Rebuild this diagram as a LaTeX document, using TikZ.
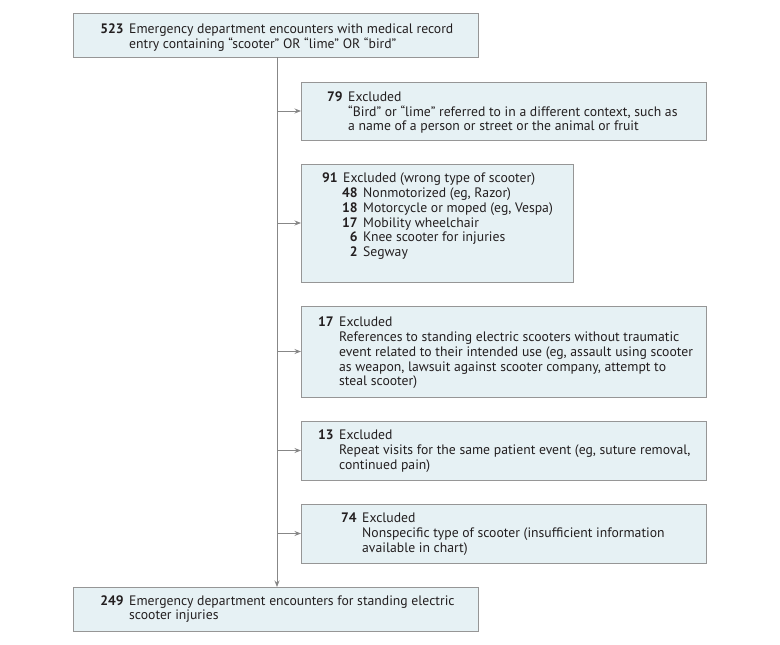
\documentclass[tikz,border=0pt]{standalone}
\usepackage{fontspec}
\setmainfont{PT Sans}
\usetikzlibrary{arrows.meta,calc}
\definecolor{boxfill}{RGB}{230,241,244}
\definecolor{boxline}{RGB}{150,150,150}
\definecolor{conn}{RGB}{135,135,135}
\definecolor{ink}{RGB}{35,31,32}
\newcommand{\fcnum}[1]{\llap{\textbf{#1}\hspace{5.5pt}}}
\begin{document}
\begin{tikzpicture}[x=1pt,y=-1pt,
  box/.style={draw=boxline,fill=boxfill,line width=0.8pt,inner sep=0pt,anchor=north west},
  txt/.style={inner sep=0pt,anchor=base west,text=ink,font=\fontsize{13.7}{14.8}\selectfont},
  conline/.style={draw=conn,line width=0.8pt},
  arr/.style={conline,-{Stealth[length=6.5pt,width=5pt]}}]
\useasboundingbox (0,0) rectangle (780,645);
% boxes
\node[box,minimum width=405pt,minimum height=44pt] (top) at (73,13) {};
\node[box,minimum width=405pt,minimum height=58pt] (b1) at (301,82) {};
\node[box,minimum width=272pt,minimum height=118pt] (b2) at (301,164) {};
\node[box,minimum width=405pt,minimum height=91pt] (b3) at (301,306) {};
\node[box,minimum width=405pt,minimum height=59pt] (b4) at (301,421) {};
\node[box,minimum width=405pt,minimum height=59pt] (b5) at (301,504) {};
\node[box,minimum width=405pt,minimum height=44pt] (bot) at (73,587) {};
% texts
\node[txt] (ttop) at (129,33.3) {\begin{tabular}[t]{@{}l@{}}\fcnum{523}Emergency department encounters with medical record\\ entry containing “scooter” OR “lime” OR “bird”\end{tabular}};
\node[txt] (t1) at (348,101) {\begin{tabular}[t]{@{}l@{}}\fcnum{79}Excluded\\ “Bird” or “lime” referred to in a different context, such as\\ a name of a person or street or the animal or fruit\end{tabular}};
\node[txt] (t2) at (343,182.7) {\begin{tabular}[t]{@{}l@{}}\fcnum{91}Excluded (wrong type of scooter)\\
\hspace{20pt}\fcnum{48}Nonmotorized (eg, Razor)\\
\hspace{20pt}\fcnum{18}Motorcycle or moped (eg, Vespa)\\
\hspace{20pt}\fcnum{17}Mobility wheelchair\\
\hspace{20pt}\fcnum{6}Knee scooter for injuries\\
\hspace{20pt}\fcnum{2}Segway\end{tabular}};
\node[txt] (t3) at (339,326.7) {\begin{tabular}[t]{@{}l@{}}\fcnum{17}Excluded\\ References to standing electric scooters without traumatic\\ event related to their intended use (eg, assault using scooter\\ as weapon, lawsuit against scooter company, attempt to\\ steal scooter)\end{tabular}};
\node[txt] (t4) at (339,439.5) {\begin{tabular}[t]{@{}l@{}}\fcnum{13}Excluded\\ Repeat visits for the same patient event (eg, suture removal,\\ continued pain)\end{tabular}};
\node[txt] (t5) at (362,522.5) {\begin{tabular}[t]{@{}l@{}}\fcnum{74}Excluded\\ Nonspecific type of scooter (insufficient information\\ available in chart)\end{tabular}};
\node[txt] (tbot) at (129,605) {\begin{tabular}[t]{@{}l@{}}\fcnum{249}Emergency department encounters for standing electric\\ scooter injuries\end{tabular}};
% connectors
\coordinate (s) at (277,57);
\coordinate (e) at (277,587);
\draw[arr] (s) -- (e);
\coordinate (j1) at (277,111);
\coordinate (j2) at (277,223);
\coordinate (j3) at (277,351.5);
\coordinate (j4) at (277,450.5);
\coordinate (j5) at (277,533.5);
\draw[arr] (j1) -- (j1 -| b1.west);
\draw[arr] (j2) -- (j2 -| b2.west);
\draw[arr] (j3) -- (j3 -| b3.west);
\draw[arr] (j4) -- (j4 -| b4.west);
\draw[arr] (j5) -- (j5 -| b5.west);
\end{tikzpicture}
\end{document}
